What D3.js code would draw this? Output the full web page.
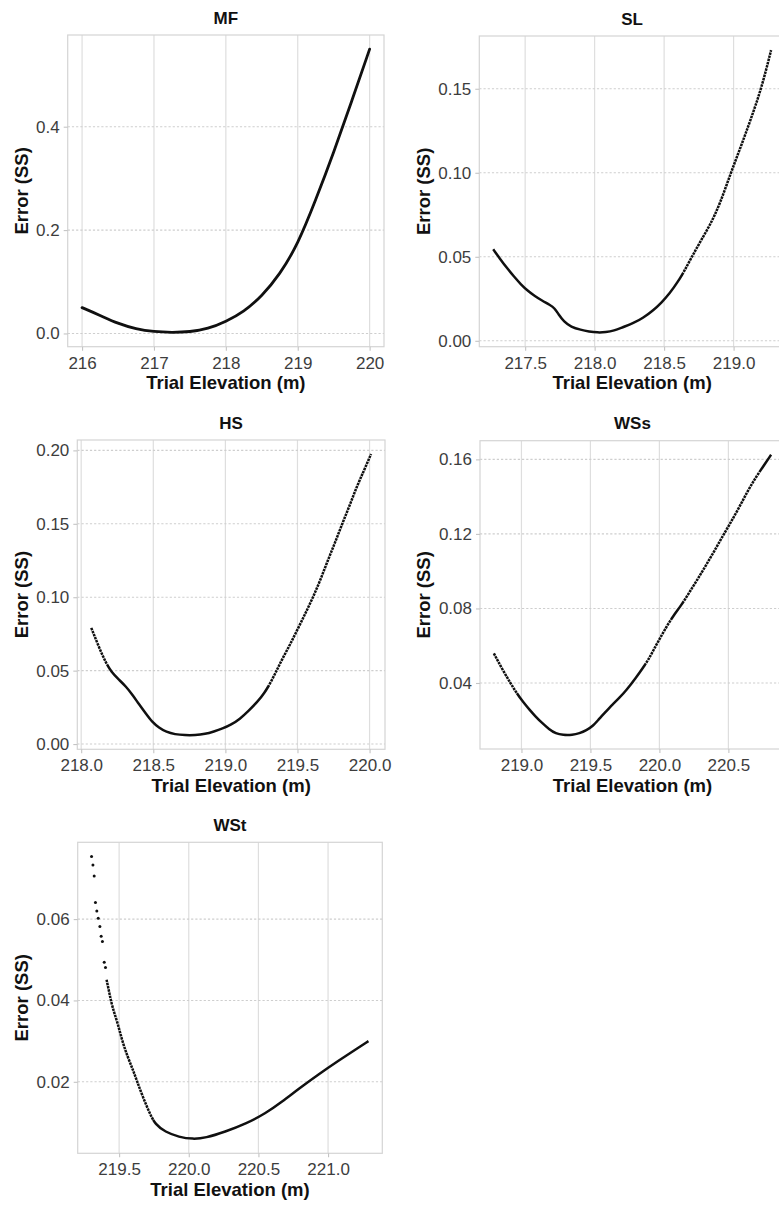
<!DOCTYPE html>
<html>
<head>
<meta charset="utf-8">
<script src="https://cdn.jsdelivr.net/npm/d3@7"></script>
<style>
  html, body { margin: 0; padding: 0; background: #fff; }
  svg { display: block; }
  text { font-family: "Liberation Sans", Arial, Helvetica, sans-serif; }
</style>
</head>
<body>
<svg id="chart" width="779" height="1205"></svg>
<script>
// ---- Sum-of-squares error against trial elevation, one series per site ----
const panelNames = ["MF", "SL", "HS", "WSs", "WSt"];

const mfElev = [216.00, 216.25, 216.50, 216.75, 217.00, 217.25, 217.50, 217.75, 218.00, 218.25,
                218.50, 218.75, 219.00, 219.25, 219.50, 219.75, 220.00];
const mfErr  = [0.050, 0.035, 0.019, 0.0085, 0.0032, 0.0018, 0.003, 0.0088, 0.0228, 0.042,
                0.072, 0.114, 0.172, 0.258, 0.350, 0.449, 0.550];

const slElev = [217.27, 217.32, 217.37, 217.42, 217.47, 217.52, 217.57, 217.62, 217.68, 217.71,
                217.74, 217.78, 217.83, 217.90, 217.96, 218.02, 218.08, 218.14, 218.20, 218.28,
                218.35, 218.42, 218.48, 218.54, 218.60, 218.65, 218.70, 218.76, 218.83, 218.90,
                218.98, 219.05, 219.12, 219.20, 219.27];
const slErr  = [0.0545, 0.0487, 0.0432, 0.0382, 0.0335, 0.0297, 0.0266, 0.0240, 0.0213, 0.0196,
                0.0158, 0.0113, 0.0083, 0.0065, 0.0055, 0.0049, 0.0051, 0.0060, 0.0080, 0.0105,
                0.0137, 0.0180, 0.0226, 0.0282, 0.0352, 0.0422, 0.0500, 0.0590, 0.0688, 0.0810,
                0.1000, 0.1150, 0.1310, 0.1500, 0.1730];

const hsElev = [218.07, 218.12, 218.17, 218.21, 218.26, 218.31, 218.36, 218.40, 218.45, 218.49,
                218.54, 218.59, 218.65, 218.72, 218.79, 218.86, 218.92, 218.98, 219.04, 219.10,
                219.16, 219.22, 219.27, 219.32, 219.36, 219.40, 219.45, 219.51, 219.56, 219.61,
                219.66, 219.71, 219.76, 219.81, 219.86, 219.91, 219.96, 220.01];
const hsErr  = [0.0791, 0.0667, 0.0555, 0.0490, 0.0440, 0.0393, 0.0330, 0.0272, 0.0205, 0.0152,
                0.0110, 0.0082, 0.0066, 0.0060, 0.0060, 0.0068, 0.0085, 0.0105, 0.0132, 0.0170,
                0.0225, 0.0285, 0.0345, 0.0430, 0.0510, 0.0590, 0.0680, 0.0800, 0.0900, 0.1005,
                0.1120, 0.1250, 0.1370, 0.1500, 0.1620, 0.1750, 0.1860, 0.1975];

const wssElev = [218.80, 218.86, 218.92, 218.97, 219.01, 219.06, 219.10, 219.15, 219.20, 219.25,
                 219.30, 219.37, 219.42, 219.47, 219.52, 219.56, 219.61, 219.66, 219.71, 219.76,
                 219.83, 219.88, 219.92, 219.96, 220.00, 220.05, 220.10, 220.16, 220.22, 220.28,
                 220.34, 220.40, 220.46, 220.52, 220.58, 220.64, 220.70, 220.76, 220.81];
const wssErr  = [0.0559, 0.0475, 0.0400, 0.0340, 0.0300, 0.0255, 0.0222, 0.0185, 0.0152, 0.0128,
                 0.0121, 0.0121, 0.0130, 0.0145, 0.0170, 0.0205, 0.0245, 0.0285, 0.0320, 0.0360,
                 0.0428, 0.0480, 0.0525, 0.0580, 0.0635, 0.0700, 0.0760, 0.0818, 0.0890, 0.0960,
                 0.1035, 0.1110, 0.1190, 0.1265, 0.1345, 0.1430, 0.1505, 0.1570, 0.1625];

// WSt: the isolated trials at the low end, then the continuous run
const wstDotElev = [219.302, 219.312, 219.321, 219.330, 219.340, 219.350, 219.362, 219.371,
                    219.380, 219.393, 219.402];
const wstDotErr  = [0.0754, 0.0733, 0.0706, 0.0641, 0.0620, 0.0602, 0.0582, 0.0558,
                    0.0545, 0.0494, 0.0481];
const wstElev = [219.41, 219.43, 219.45, 219.49, 219.52, 219.56, 219.60, 219.63, 219.67, 219.72,
                 219.76, 219.83, 219.93, 220.03, 220.12, 220.26, 220.41, 220.55, 220.67, 220.79,
                 220.93, 221.08, 221.20, 221.29];
const wstErr  = [0.0451, 0.0418, 0.0385, 0.0344, 0.0303, 0.0262, 0.0229, 0.0200, 0.0163, 0.0122,
                 0.0095, 0.0077, 0.0064, 0.0059, 0.0062, 0.0077, 0.0097, 0.0122, 0.0151, 0.0183,
                 0.0218, 0.0253, 0.0280, 0.0300];

// Tick values and labels
const mfXTicks = [216, 217, 218, 219, 220];
const mfXLabels = ["216", "217", "218", "219", "220"];
const mfYTicks = [0, 0.2, 0.4];
const mfYLabels = ["0.0", "0.2", "0.4"];

const slXTicks = [217.5, 218.0, 218.5, 219.0];
const slXLabels = ["217.5", "218.0", "218.5", "219.0"];
const slYTicks = [0, 0.05, 0.10, 0.15];
const slYLabels = ["0.00", "0.05", "0.10", "0.15"];

const hsXTicks = [218.0, 218.5, 219.0, 219.5, 220.0];
const hsXLabels = ["218.0", "218.5", "219.0", "219.5", "220.0"];
const hsYTicks = [0, 0.05, 0.10, 0.15, 0.20];
const hsYLabels = ["0.00", "0.05", "0.10", "0.15", "0.20"];

const wssXTicks = [219.0, 219.5, 220.0, 220.5];
const wssXLabels = ["219.0", "219.5", "220.0", "220.5"];
const wssYTicks = [0.04, 0.08, 0.12, 0.16];
const wssYLabels = ["0.04", "0.08", "0.12", "0.16"];

const wstXTicks = [219.5, 220.0, 220.5, 221.0];
const wstXLabels = ["219.5", "220.0", "220.5", "221.0"];
const wstYTicks = [0.02, 0.04, 0.06];
const wstYLabels = ["0.02", "0.04", "0.06"];

const xTitle = "Trial Elevation (m)";
const yTitle = "Error (SS)";

// ---- panel layout: plot boxes [left, top, right, bottom], y-title column ----
const panels = [
  { name: panelNames[0], box: [67.7, 35, 384, 346.7], yTitleX: 28,
    elev: mfElev, err: mfErr, xTicks: mfXTicks, xLabels: mfXLabels, yTicks: mfYTicks, yLabels: mfYLabels,
    dotSlope: Infinity, lineW: 2.8 },
  { name: panelNames[1], box: [479.3, 36, 785, 346.7], yTitleX: 429.5,
    elev: slElev, err: slErr, xTicks: slXTicks, xLabels: slXLabels, yTicks: slYTicks, yLabels: slYLabels,
    dotSlope: 1.7, lineW: 2.5 },
  { name: panelNames[2], box: [77.3, 440, 385, 749.3], yTitleX: 28,
    elev: hsElev, err: hsErr, xTicks: hsXTicks, xLabels: hsXLabels, yTicks: hsYTicks, yLabels: hsYLabels,
    dotSlope: 1.7, lineW: 2.5 },
  { name: panelNames[3], box: [480, 440.7, 785, 749], yTitleX: 429.5,
    elev: wssElev, err: wssErr, xTicks: wssXTicks, xLabels: wssXLabels, yTicks: wssYTicks, yLabels: wssYLabels,
    dotSlope: 1.5, lineW: 2.5 },
  { name: panelNames[4], box: [77.7, 842.3, 382.3, 1153.3], yTitleX: 28,
    elev: wstElev, err: wstErr, dotElev: wstDotElev, dotErr: wstDotErr,
    xTicks: wstXTicks, xLabels: wstXLabels, yTicks: wstYTicks, yLabels: wstYLabels,
    dotSlope: 1.7, lineW: 2.5 }
];

const svg = d3.select("#chart");
svg.append("rect").attr("width", 779).attr("height", 1205).attr("fill", "#fff");
const defs = svg.append("defs");

const INK = "#101010";
const TICK_TEXT = "#3d3d3d";
const DOT_ON = 2.5, DOT_OFF = 0.8;

// Dash pattern along a path: solid where the trace is shallow, broken into
// short dots where it is steeper than `limit` (screen px per px).
function traceDashes(node, limit) {
  const L = node.getTotalLength();
  const step = 1;
  const flags = [];
  let prev = node.getPointAtLength(0);
  for (let s = step; s <= L + 0.001; s += step) {
    const cur = node.getPointAtLength(Math.min(s, L));
    const dx = Math.abs(cur.x - prev.x), dy = Math.abs(cur.y - prev.y);
    flags.push(dx < 1e-6 ? true : dy / dx > limit);
    prev = cur;
  }
  const runs = [];
  flags.forEach(f => {
    const last = runs[runs.length - 1];
    if (last && last.steep === f) last.len += step;
    else runs.push({ steep: f, len: step });
  });
  if (runs.length === 1 && !runs[0].steep) return null;
  const arr = [];
  runs.forEach(r => {
    if (!r.steep) { arr.push(r.len, 0); return; }
    let left = r.len;
    while (left > 0) {
      const on = Math.min(DOT_ON, left);
      left -= on;
      const off = Math.min(DOT_OFF, left);
      left -= off;
      arr.push(on, off);
    }
  });
  return arr.map(v => v.toFixed(2)).join(" ");
}

panels.forEach((p, i) => {
  const [x0, y0, x1, y1] = p.box;
  const allE = p.elev.concat(p.dotElev || []);
  const allV = p.err.concat(p.dotErr || []);
  const ex = d3.extent(allE), ey = d3.extent(allV);
  const padX = (ex[1] - ex[0]) * 0.05, padY = (ey[1] - ey[0]) * 0.05;

  const x = d3.scaleLinear().domain([ex[0] - padX, ex[1] + padX]).range([x0, x1]);
  const y = d3.scaleLinear().domain([ey[0] - padY, ey[1] + padY]).range([y1, y0]);

  const clipId = "panel-clip-" + i;
  defs.append("clipPath").attr("id", clipId)
    .append("rect").attr("x", x0).attr("y", y0).attr("width", x1 - x0).attr("height", y1 - y0);

  const g = svg.append("g");

  // grid: solid verticals, dashed horizontals
  g.append("g").selectAll("line").data(p.xTicks).join("line")
    .attr("x1", d => x(d)).attr("x2", d => x(d))
    .attr("y1", y0).attr("y2", y1)
    .attr("stroke", "#dedede").attr("stroke-width", 1.2);
  g.append("g").selectAll("line").data(p.yTicks).join("line")
    .attr("x1", x0).attr("x2", x1)
    .attr("y1", d => y(d)).attr("y2", d => y(d))
    .attr("stroke", "#cecece").attr("stroke-width", 1.1)
    .attr("stroke-dasharray", "2.2 2");

  // panel border
  g.append("rect").attr("x", x0).attr("y", y0).attr("width", x1 - x0).attr("height", y1 - y0)
    .attr("fill", "none").attr("stroke", "#d4d4d4").attr("stroke-width", 1.2);

  // axes
  const xAxis = g.append("g").attr("transform", `translate(0,${y1})`)
    .call(d3.axisBottom(x).tickValues(p.xTicks).tickFormat((d, k) => p.xLabels[k])
      .tickSize(4).tickPadding(6));
  const yAxis = g.append("g").attr("transform", `translate(${x0},0)`)
    .call(d3.axisLeft(y).tickValues(p.yTicks).tickFormat((d, k) => p.yLabels[k])
      .tickSize(4).tickPadding(4));
  [xAxis, yAxis].forEach(a => {
    a.select(".domain").remove();
    a.selectAll(".tick line").attr("stroke", "#c4c4c4").attr("stroke-width", 1.1);
    a.selectAll(".tick text").attr("fill", TICK_TEXT).attr("font-size", 17)
      .attr("font-family", '"Liberation Sans", Arial, Helvetica, sans-serif');
  });

  // data trace
  const plot = g.append("g").attr("clip-path", `url(#${clipId})`);
  const pts = p.elev.map((e, k) => ({ e, v: p.err[k] }));
  const line = d3.line().x(d => x(d.e)).y(d => y(d.v)).curve(d3.curveBasis);

  const trace = plot.append("path")
    .attr("d", line(pts))
    .attr("fill", "none")
    .attr("stroke", INK)
    .attr("stroke-width", p.lineW)
    .attr("stroke-linejoin", "round");
  if (isFinite(p.dotSlope)) {
    const dash = traceDashes(trace.node(), p.dotSlope);
    if (dash) trace.attr("stroke-dasharray", dash);
  } else {
    trace.attr("stroke-linecap", "round");
  }

  if (p.dotElev) {
    plot.selectAll("circle.trial").data(p.dotElev.map((e, k) => ({ e, v: p.dotErr[k] })))
      .join("circle").attr("class", "trial")
      .attr("cx", d => x(d.e)).attr("cy", d => y(d.v)).attr("r", 1.5)
      .attr("fill", INK);
  }

  // titles
  svg.append("text").attr("x", (x0 + x1) / 2).attr("y", y0 - 11.5)
    .attr("text-anchor", "middle").attr("font-weight", "bold").attr("font-size", 17)
    .attr("fill", "#111").text(p.name);
  svg.append("text").attr("x", (x0 + x1) / 2).attr("y", y1 + 42.5)
    .attr("text-anchor", "middle").attr("font-weight", "bold").attr("font-size", 18.5)
    .attr("fill", "#111").text(xTitle);
  svg.append("text")
    .attr("transform", `translate(${p.yTitleX},${(y0 + y1) / 2}) rotate(-90)`)
    .attr("text-anchor", "middle").attr("font-weight", "bold").attr("font-size", 18.5)
    .attr("fill", "#111").text(yTitle);
});
</script>
</body>
</html>
